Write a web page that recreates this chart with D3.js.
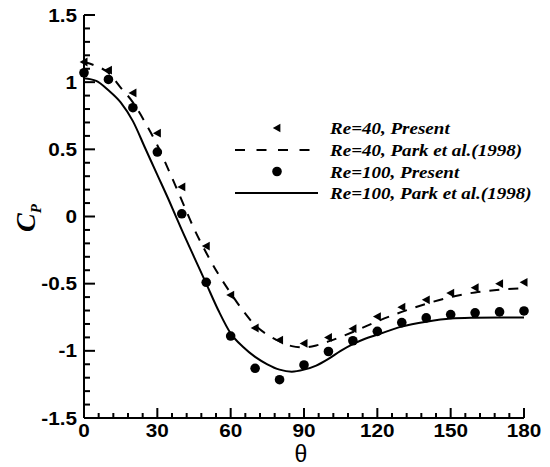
<!DOCTYPE html>
<html>
<head>
<meta charset="utf-8">
<script src="https://cdn.jsdelivr.net/npm/d3@7"></script>
<style>
  html, body { margin: 0; padding: 0; background: #fff; }
  svg { display: block; }
</style>
</head>
<body>
<svg id="chart" width="550" height="467"></svg>
<script>
// Pressure coefficient around a circular cylinder
const markerTheta = [0, 10, 20, 30, 40, 50, 60, 70, 80, 90, 100, 110, 120, 130, 140, 150, 160, 170, 180];
const re40Present = [1.15, 1.09, 0.92, 0.62, 0.22, -0.22, -0.585, -0.83, -0.92, -0.945, -0.90, -0.835, -0.745, -0.675, -0.62, -0.57, -0.53, -0.50, -0.49];
const re100Present = [1.07, 1.02, 0.81, 0.48, 0.02, -0.49, -0.89, -1.13, -1.215, -1.105, -1.005, -0.925, -0.855, -0.79, -0.755, -0.73, -0.717, -0.71, -0.703];

const re40ParkTheta = [0, 5, 10, 15, 20, 25, 30, 35, 40, 45, 50, 55, 60, 65, 70, 75, 80, 85, 90, 95, 100, 110, 120, 130, 140, 150, 160, 170, 180];
const re40Park = [1.15, 1.12, 1.07, 0.96, 0.85, 0.70, 0.53, 0.33, 0.12, -0.09, -0.27, -0.43, -0.57, -0.70, -0.81, -0.88, -0.93, -0.965, -0.975, -0.96, -0.93, -0.86, -0.78, -0.71, -0.65, -0.60, -0.565, -0.545, -0.535];

const re100ParkTheta = [0, 5, 10, 15, 20, 25, 30, 35, 40, 45, 50, 55, 60, 65, 70, 75, 80, 85, 90, 95, 100, 105, 110, 115, 120, 130, 140, 150, 160, 170, 180];
const re100Park = [1.03, 1.01, 0.94, 0.85, 0.71, 0.51, 0.31, 0.11, -0.10, -0.30, -0.50, -0.70, -0.87, -0.97, -1.045, -1.10, -1.14, -1.155, -1.14, -1.11, -1.06, -1.0, -0.95, -0.91, -0.88, -0.82, -0.784, -0.76, -0.754, -0.752, -0.752];

const xTicks = [0, 30, 60, 90, 120, 150, 180];
const yTicks = [-1.5, -1, -0.5, 0, 0.5, 1, 1.5];
const yTickLabels = ["-1.5", "-1", "-0.5", "0", "0.5", "1", "1.5"];

const legendLabels = [
  "Re=40, Present",
  "Re=40, Park et al.(1998)",
  "Re=100, Present",
  "Re=100, Park et al.(1998)"
];

const svg = d3.select("#chart");
const x = d3.scaleLinear().domain([0, 180]).range([84, 524]);
const y = d3.scaleLinear().domain([-1.5, 1.5]).range([418, 15]);

const tickFont = "'Liberation Sans', Arial, sans-serif";
const serifFont = "'Liberation Serif', 'Times New Roman', serif";

// minor ticks
const xMinor = d3.range(0, 181, 6).filter(v => v % 30 !== 0);
const yMinor = d3.range(-15, 16, 1).map(v => v / 10).filter(v => Math.abs(v * 2 - Math.round(v * 2)) > 1e-6);

const axes = svg.append("g").attr("stroke", "#000").attr("stroke-width", 2);
axes.append("line").attr("x1", x(0)).attr("x2", x(180)).attr("y1", y(-1.5)).attr("y2", y(-1.5));
axes.append("line").attr("x1", x(0)).attr("x2", x(0)).attr("y1", y(-1.5)).attr("y2", y(1.5));

axes.selectAll(".xmaj").data(xTicks).join("line")
  .attr("x1", d => x(d)).attr("x2", d => x(d))
  .attr("y1", y(-1.5)).attr("y2", y(-1.5) - 10);
axes.selectAll(".xmin").data(xMinor).join("line")
  .attr("x1", d => x(d)).attr("x2", d => x(d))
  .attr("y1", y(-1.5)).attr("y2", y(-1.5) - 5);
axes.selectAll(".ymaj").data(yTicks).join("line")
  .attr("x1", x(0)).attr("x2", x(0) + 11)
  .attr("y1", d => y(d)).attr("y2", d => y(d));
axes.selectAll(".ymin").data(yMinor).join("line")
  .attr("x1", x(0)).attr("x2", x(0) + 6)
  .attr("y1", d => y(d)).attr("y2", d => y(d));

// tick labels
svg.append("g").selectAll("text").data(xTicks).join("text")
  .attr("transform", d => `translate(${x(d)},437) scale(1.12,1)`)
  .attr("text-anchor", "middle")
  .attr("font-family", tickFont).attr("font-weight", "bold").attr("font-size", 18.5)
  .text(d => d);

svg.append("g").selectAll("text").data(yTicks).join("text")
  .attr("transform", d => `translate(77,${y(d) + 6.5}) scale(1.12,1)`)
  .attr("text-anchor", "end")
  .attr("font-family", tickFont).attr("font-weight", "bold").attr("font-size", 18.5)
  .text((d, i) => yTickLabels[i]);

// axis titles
svg.append("text")
  .attr("x", 301).attr("y", 462)
  .attr("text-anchor", "middle")
  .attr("font-family", tickFont).attr("font-size", 23)
  .text("θ");

const cp = svg.append("text")
  .attr("transform", "translate(35,232) rotate(-90)")
  .attr("font-family", serifFont).attr("font-weight", "bold").attr("font-style", "italic")
  .attr("font-size", 28);
cp.append("tspan").text("C");
cp.append("tspan").attr("font-size", 15).attr("dy", 6).text("P");

// curves
const line = d3.line().x(d => x(d[0])).y(d => y(d[1])).curve(d3.curveMonotoneX);

svg.append("path")
  .datum(re40ParkTheta.map((t, i) => [t, re40Park[i]]))
  .attr("d", line)
  .attr("fill", "none").attr("stroke", "#000").attr("stroke-width", 2)
  .attr("stroke-dasharray", "10,9");

svg.append("path")
  .datum(re100ParkTheta.map((t, i) => [t, re100Park[i]]))
  .attr("d", line)
  .attr("fill", "none").attr("stroke", "#000").attr("stroke-width", 2);

// left-pointing triangle marker
const tri = (cx, cy, s) => `M${cx - s},${cy} L${cx + s * 0.8},${cy - s} L${cx + s * 0.8},${cy + s} Z`;

svg.append("g").selectAll("path")
  .data(markerTheta.map((t, i) => [t, re40Present[i]]))
  .join("path")
  .attr("d", d => tri(x(d[0]), y(d[1]), 4.4))
  .attr("fill", "#000");

svg.append("g").selectAll("circle")
  .data(markerTheta.map((t, i) => [t, re100Present[i]]))
  .join("circle")
  .attr("cx", d => x(d[0])).attr("cy", d => y(d[1])).attr("r", 4.8)
  .attr("fill", "#000");

// legend
const legendY = [128, 150, 171.5, 193];
const lg = svg.append("g");
lg.append("path").attr("d", tri(277, legendY[0], 4.2)).attr("fill", "#000");
lg.append("line").attr("x1", 235).attr("x2", 318).attr("y1", legendY[1]).attr("y2", legendY[1])
  .attr("stroke", "#000").attr("stroke-width", 2).attr("stroke-dasharray", "10,11.5");
lg.append("circle").attr("cx", 277).attr("cy", legendY[2]).attr("r", 4.8).attr("fill", "#000");
lg.append("line").attr("x1", 235).attr("x2", 318).attr("y1", legendY[3]).attr("y2", legendY[3])
  .attr("stroke", "#000").attr("stroke-width", 2);

lg.selectAll("text").data(legendLabels).join("text")
  .attr("transform", (d, i) => `translate(330,${legendY[i] + 6}) scale(1.12,1)`)
  .attr("font-family", serifFont).attr("font-weight", "bold").attr("font-style", "italic")
  .attr("font-size", 17)
  .text(d => d);
</script>
</body>
</html>
